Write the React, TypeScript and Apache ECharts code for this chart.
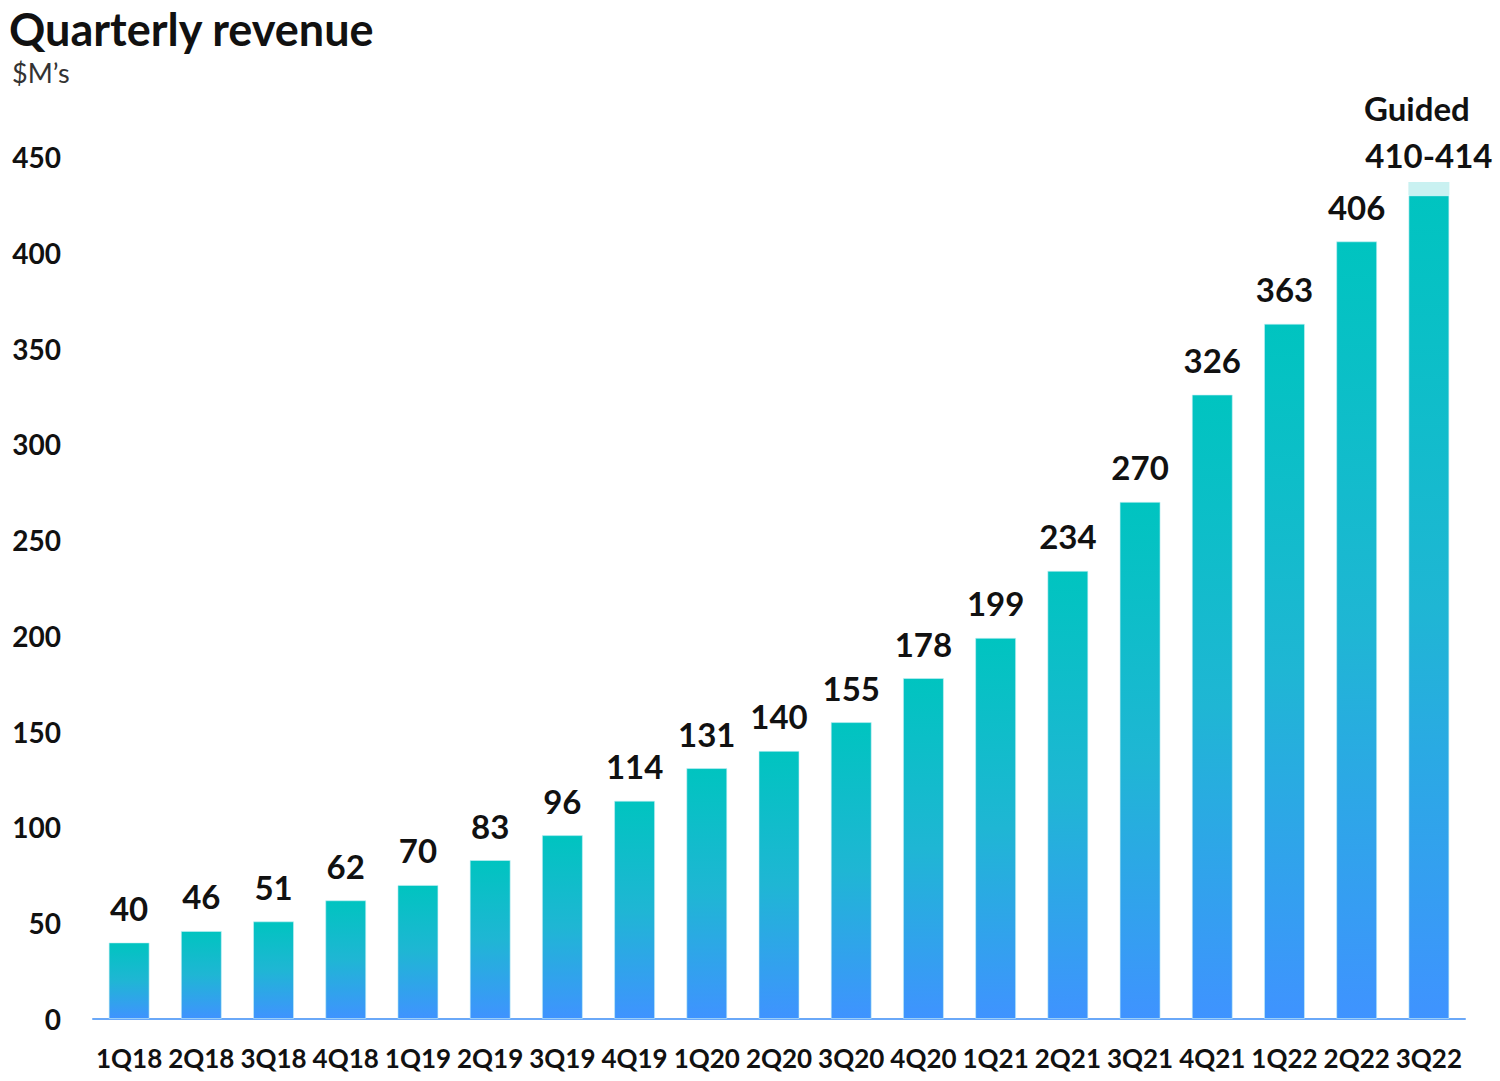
import React, { useEffect, useRef } from "react";
import * as echarts from "echarts";

const categories = ["1Q18","2Q18","3Q18","4Q18","1Q19","2Q19","3Q19","4Q19","1Q20","2Q20","3Q20","4Q20","1Q21","2Q21","3Q21","4Q21","1Q22","2Q22","3Q22"];
const revenue = [40, 46, 51, 62, 70, 83, 96, 114, 131, 140, 155, 178, 199, 234, 270, 326, 363, 406, 430];
const guidedCap = [null, null, null, null, null, null, null, null, null, null, null, null, null, null, null, null, null, null, 7];
const yTicks = [0, 50, 100, 150, 200, 250, 300, 350, 400, 450];
const guidedLabel = ["Guided", "410-414"];

const FONT = "Lato, 'Open Sans', sans-serif";

export default function App() {
  const ref = useRef<HTMLDivElement>(null);
  useEffect(() => {
    document.body.style.margin = "0";
    if (!ref.current) return;
    const chart = echarts.init(ref.current, null, { renderer: "svg" });
    const grad = new echarts.graphic.LinearGradient(0, 0, 0, 1, [
      { offset: 0, color: "#00C4C0" },
      { offset: 0.5, color: "#1FB6D4" },
      { offset: 1, color: "#3F93FF" },
    ]);
    const lastIdx = revenue.length - 1;
    chart.setOption({
      animation: false,
      textStyle: { fontFamily: FONT },
      title: [
        {
          text: "Quarterly revenue",
          left: 4,
          top: 0,
          textStyle: { fontFamily: FONT, fontSize: 45, fontWeight: "bold", color: "#111", lineHeight: 48 },
        },
        {
          text: "$M’s",
          left: 7,
          top: 54,
          textStyle: { fontFamily: FONT, fontSize: 27, fontWeight: "normal", color: "#333" },
        },
      ],
      grid: { left: 93, right: 35, top: 157, bottom: 62, containLabel: false },
      xAxis: {
        type: "category",
        data: categories,
        axisLine: { show: true, lineStyle: { color: "#6AA8F8", width: 2 } },
        axisTick: { show: false },
        axisLabel: {
          interval: 0,
          margin: 26,
          fontFamily: FONT,
          fontSize: 26,
          fontWeight: "bold",
          color: "#111",
        },
      },
      yAxis: {
        type: "value",
        min: 0,
        max: yTicks[yTicks.length - 1],
        interval: 50,
        splitLine: { show: false },
        axisLine: { show: false },
        axisTick: { show: false },
        axisLabel: {
          margin: 32,
          fontFamily: FONT,
          fontSize: 28,
          fontWeight: "bold",
          color: "#111",
        },
      },
      series: [
        {
          type: "bar",
          stack: "rev",
          data: revenue,
          barWidth: 41,
          itemStyle: { color: grad, borderColor: "rgba(200,240,245,0.6)", borderWidth: 1 },
          label: {
            show: true,
            position: "top",
            distance: 18,
            fontFamily: FONT,
            fontSize: 33,
            fontWeight: "bold",
            color: "#111",
            formatter: (p: any) => (p.dataIndex === lastIdx ? "" : String(p.value)),
          },
        },
        {
          type: "bar",
          stack: "rev",
          data: guidedCap,
          barWidth: 41,
          itemStyle: { color: "#C9F1F1" },
          label: {
            show: true,
            position: "top",
            distance: 4,
            fontFamily: FONT,
            fontSize: 33,
            fontWeight: "bold",
            color: "#111",
            formatter: () => "{a|" + guidedLabel[0] + "}\n{b|" + guidedLabel[1] + "}",
            rich: {
              a: { fontFamily: FONT, fontSize: 33, fontWeight: "bold", color: "#111", lineHeight: 48, align: "center", padding: [0, 0, 0, -24] },
              b: { fontFamily: FONT, fontSize: 33, fontWeight: "bold", color: "#111", lineHeight: 46, align: "center" },
            },
          },
        },
      ],
    });
    return () => chart.dispose();
  }, []);
  return <div ref={ref} style={{ width: 1500, height: 1081 }} />;
}
